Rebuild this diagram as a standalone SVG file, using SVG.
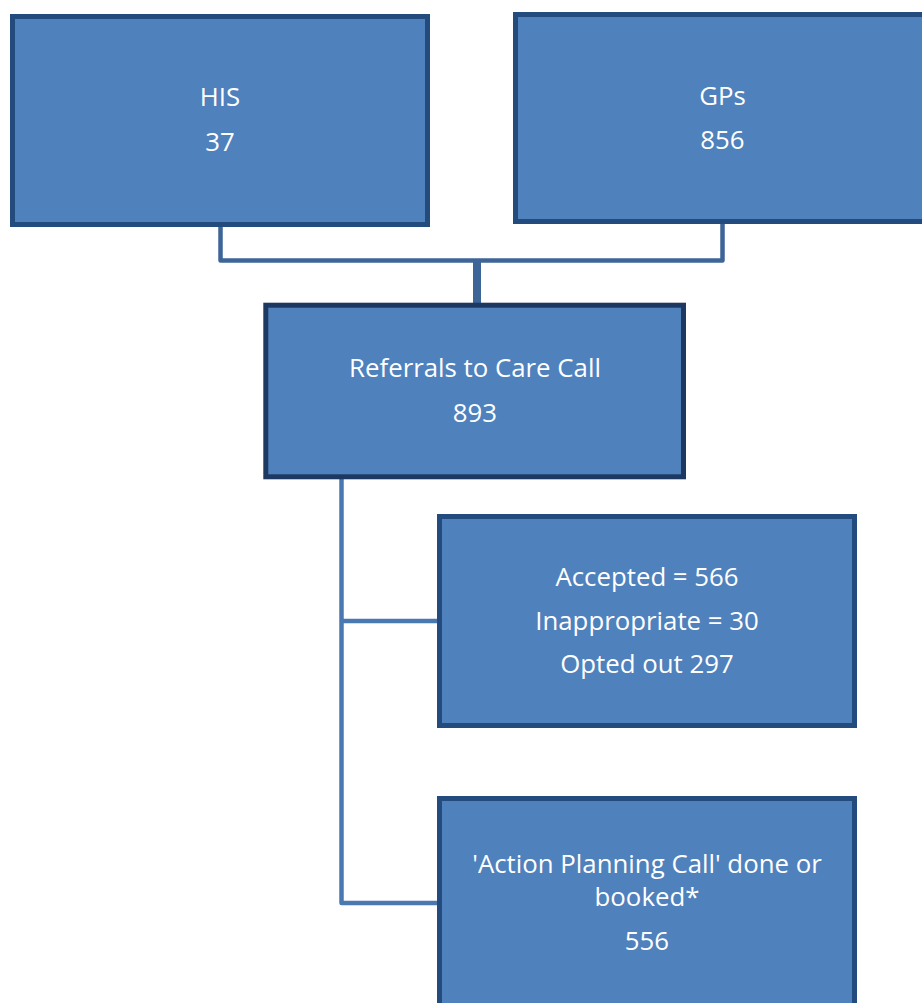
<svg xmlns="http://www.w3.org/2000/svg" width="922" height="1003" viewBox="0 0 922 1003">
<style>
.box{fill:#4f81bd;stroke:#234b7e;stroke-width:5}
.dark{stroke:#1d3961}
.t{font-family:"Open Sans","Liberation Sans",sans-serif;font-size:25.8px;fill:#ffffff;text-anchor:middle}
.c1{fill:none;stroke:#3e6597;stroke-width:4.5;stroke-linejoin:round}
.c2{fill:none;stroke:#4a79b2;stroke-width:4.5;stroke-linejoin:round}
</style>
<rect width="922" height="1003" fill="#ffffff"/>
<g id="connectors">
<path class="c1" d="M220.5 226 V260.5 H722.5 V223"/>
<path class="c1" d="M477 260 V305" style="stroke-width:8"/>
<path class="c2" d="M341.5 478 V903 H438"/>
<path class="c2" d="M341.5 621 H438"/>
</g>
<g id="his">
<rect class="box" x="12.5" y="16.5" width="415" height="208"/>
<text class="t" x="220" y="106">HIS</text>
<text class="t" x="220" y="151">37</text>
</g>
<g id="gps">
<rect class="box" x="515.5" y="14.5" width="415" height="207"/>
<text class="t" x="722.5" y="105">GPs</text>
<text class="t" x="722.5" y="149">856</text>
</g>
<g id="referrals">
<rect class="box dark" x="265.8" y="305.2" width="417.7" height="171.6"/>
<text class="t" x="475" y="377">Referrals to Care Call</text>
<text class="t" x="475" y="422">893</text>
</g>
<g id="outcomes">
<rect class="box" x="439.5" y="516.5" width="415" height="209"/>
<text class="t" x="647" y="586">Accepted = 566</text>
<text class="t" x="647" y="630">Inappropriate = 30</text>
<text class="t" x="647" y="673">Opted out 297</text>
</g>
<g id="action">
<rect class="box" x="439.5" y="798.5" width="415" height="220"/>
<text class="t" x="647" y="873">'Action Planning Call' done or</text>
<text class="t" x="647" y="906">booked*</text>
<text class="t" x="647" y="950">556</text>
</g>
</svg>
